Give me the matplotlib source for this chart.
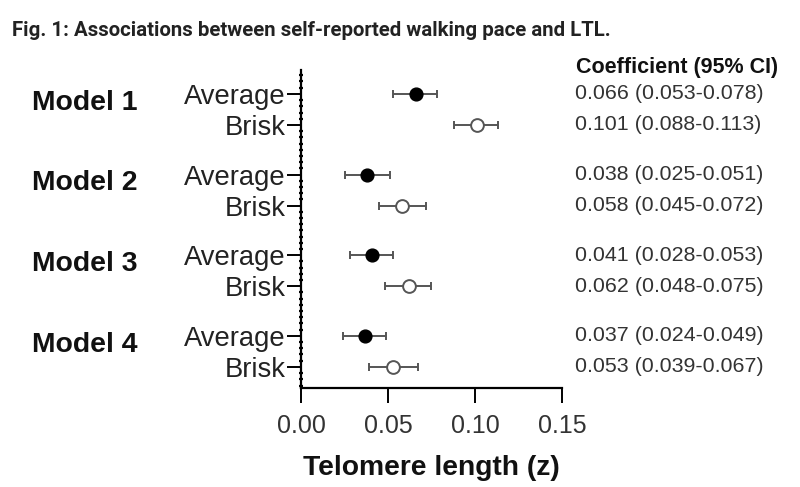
import matplotlib
matplotlib.use("Agg")
import matplotlib.pyplot as plt
from matplotlib.ticker import MultipleLocator
from matplotlib.transforms import blended_transform_factory

# ---- data ----
models = ["Model 1", "Model 2", "Model 3", "Model 4"]
groups = ["Average", "Brisk"]
avg_coef = [0.066, 0.038, 0.041, 0.037]
avg_lo = [0.053, 0.025, 0.028, 0.024]
avg_hi = [0.078, 0.051, 0.053, 0.049]
brisk_coef = [0.101, 0.058, 0.062, 0.053]
brisk_lo = [0.088, 0.045, 0.048, 0.039]
brisk_hi = [0.113, 0.072, 0.075, 0.067]
xticks = [0.00, 0.05, 0.10, 0.15]
xtick_labels = ["0.00", "0.05", "0.10", "0.15"]
title = "Fig. 1: Associations between self-reported walking pace and LTL."
xlabel = "Telomere length (z)"
header = "Coefficient (95% CI)"

plt.rcParams['font.family'] = ['Liberation Sans', 'DejaVu Sans']

fig = plt.figure(figsize=(8, 4.87), dpi=100)
ax = fig.add_axes([301/800, 1-388/487, 261/800, (388-70)/487])

gap = 2.6
avg_y = [gap*i for i in range(len(models))]
brisk_y = [gap*i + 1 for i in range(len(models))]

ecol = "#555555"
ax.errorbar(avg_coef, avg_y,
            xerr=[[c-l for c, l in zip(avg_coef, avg_lo)], [h-c for c, h in zip(avg_coef, avg_hi)]],
            fmt='o', color='black', ecolor=ecol, elinewidth=1.4, capsize=3, capthick=1.4,
            markersize=9.2, zorder=3)
ax.errorbar(brisk_coef, brisk_y,
            xerr=[[c-l for c, l in zip(brisk_coef, brisk_lo)], [h-c for c, h in zip(brisk_coef, brisk_hi)]],
            fmt='o', mfc='white', mec=ecol, mew=1.4, ecolor=ecol, elinewidth=1.4, capsize=3, capthick=1.4,
            markersize=9.2, zorder=3)

ax.set_xlim(0, 0.15)
ax.set_ylim(9.48, -0.77)
for s in ['top', 'right']:
    ax.spines[s].set_visible(False)
for s in ['left', 'bottom']:
    ax.spines[s].set_linewidth(1.6)

yt = []
ylabels = []
for a, b in zip(avg_y, brisk_y):
    yt += [a, b]
    ylabels += groups
ax.set_yticks(yt)
ax.set_yticklabels(ylabels, fontsize=19.7, color='#222222')
ax.yaxis.set_minor_locator(MultipleLocator(0.2))
ax.tick_params(axis='y', which='major', length=10, width=1.4, pad=1)
ax.tick_params(axis='y', which='minor', length=3.5, width=1.6, direction='inout')

ax.set_xticks(xticks)
ax.set_xticklabels(xtick_labels, fontsize=18, color='#333333')
ax.tick_params(axis='x', which='major', length=11, width=1.4, pad=8)
ax.set_xlabel(xlabel, fontsize=20.3, fontweight='bold', color='#111111', labelpad=12)

tr = blended_transform_factory(fig.transFigure, ax.transData)
for m, a in zip(models, avg_y):
    ax.text(32/800, a + 0.28, m, transform=tr, fontsize=20.4, fontweight='bold',
            ha='left', va='center', color='#111111', clip_on=False)

ax.text(576/800, -0.84, header, transform=tr, fontsize=15.5, fontweight='bold',
        ha='left', va='center', color='#111111', clip_on=False)
for i in range(len(models)):
    ax.text(575/800, avg_y[i], f"{avg_coef[i]:.3f} ({avg_lo[i]:.3f}-{avg_hi[i]:.3f})", transform=tr,
            fontsize=15.4, ha='left', va='center', color='#333333', clip_on=False)
    ax.text(575/800, brisk_y[i], f"{brisk_coef[i]:.3f} ({brisk_lo[i]:.3f}-{brisk_hi[i]:.3f})", transform=tr,
            fontsize=15.4, ha='left', va='center', color='#333333', clip_on=False)

# title sized to span ~601 px
t = fig.text(12/800, 1-31/487, title, fontsize=14, fontweight='bold', color='#222222',
             ha='left', va='center', family=['Roboto', 'DejaVu Sans'])
fig.canvas.draw()
w = t.get_window_extent().width
t.set_fontsize(14 * 601 / w)

fig.savefig("out.png", dpi=100)
